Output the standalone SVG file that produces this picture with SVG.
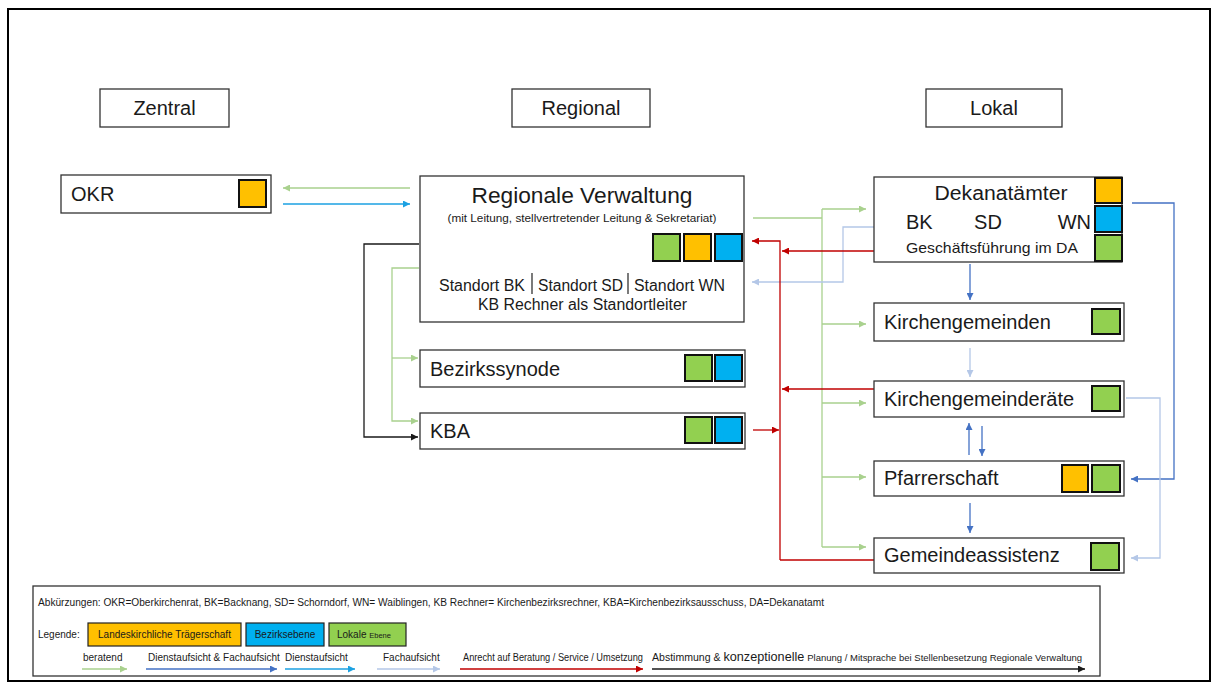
<svg xmlns="http://www.w3.org/2000/svg" width="1218" height="689" viewBox="0 0 1218 689">
  <style>
    .frame { fill: #fff; stroke: #000; stroke-width: 2; }
    .box { fill: #fff; stroke: #333; stroke-width: 1.3; }
    .sq { stroke: #111; stroke-width: 2; }
    .or { fill: #FFC000; }
    .bl { fill: #00B0F0; }
    .gr { fill: #92D050; }
    text { font-family: "Liberation Sans", Arial, sans-serif; fill: #1a1a1a; }
    .lbl { font-size: 20px; }
    .sm { font-size: 10px; }
    .c { fill: none; stroke-width: 1.3; }
    .green { stroke: #A9D18E; }
    .dblue { stroke: #4472C4; }
    .cyan { stroke: #1BA1E2; }
    .light { stroke: #B4C7E7; }
    .red { stroke: #C00000; }
    .black { stroke: #1a1a1a; }
    .dash { stroke-dasharray: 6 3; }
  </style>
  <defs>
    <marker id="mGreen" viewBox="0 0 10 10" refX="10" refY="5" markerWidth="8" markerHeight="7" markerUnits="userSpaceOnUse" orient="auto"><path d="M0,0 L10,5 L0,10 z" fill="#A9D18E"/></marker>
    <marker id="mDblue" viewBox="0 0 10 10" refX="10" refY="5" markerWidth="8" markerHeight="7" markerUnits="userSpaceOnUse" orient="auto"><path d="M0,0 L10,5 L0,10 z" fill="#4472C4"/></marker>
    <marker id="mCyan" viewBox="0 0 10 10" refX="10" refY="5" markerWidth="8" markerHeight="7" markerUnits="userSpaceOnUse" orient="auto"><path d="M0,0 L10,5 L0,10 z" fill="#1BA1E2"/></marker>
    <marker id="mLight" viewBox="0 0 10 10" refX="10" refY="5" markerWidth="8" markerHeight="7" markerUnits="userSpaceOnUse" orient="auto"><path d="M0,0 L10,5 L0,10 z" fill="#B4C7E7"/></marker>
    <marker id="mRed" viewBox="0 0 10 10" refX="10" refY="5" markerWidth="8" markerHeight="7" markerUnits="userSpaceOnUse" orient="auto"><path d="M0,0 L10,5 L0,10 z" fill="#C00000"/></marker>
    <marker id="mBlack" viewBox="0 0 10 10" refX="10" refY="5" markerWidth="8" markerHeight="7" markerUnits="userSpaceOnUse" orient="auto"><path d="M0,0 L10,5 L0,10 z" fill="#1a1a1a"/></marker>
  </defs>

  <rect class="frame" x="8" y="9" width="1202" height="672"/>

  <!-- column headers -->
  <g id="hdr-zentral">
    <rect class="box" x="100" y="89" width="129" height="38"/>
    <text class="lbl" x="164.5" y="115" text-anchor="middle">Zentral</text>
  </g>
  <g id="hdr-regional">
    <rect class="box" x="512" y="89" width="138" height="38"/>
    <text class="lbl" x="581" y="115" text-anchor="middle">Regional</text>
  </g>
  <g id="hdr-lokal">
    <rect class="box" x="926" y="89" width="136" height="38"/>
    <text class="lbl" x="994" y="115" text-anchor="middle">Lokal</text>
  </g>

  <!-- connectors -->
  <g id="connectors">
    <!-- OKR <-> Regionale Verwaltung -->
    <line class="c green" x1="410" y1="188" x2="283" y2="188" marker-end="url(#mGreen)"/>
    <line class="c cyan" x1="283" y1="204" x2="410" y2="204" marker-end="url(#mCyan)"/>

    <!-- inside Regionale Verwaltung: to the three sites -->
    <line class="c cyan" x1="545" y1="228" x2="500" y2="270" marker-end="url(#mCyan)"/>
    <line class="c light dash" x1="556" y1="230" x2="510" y2="272" marker-end="url(#mLight)"/>
    <line class="c cyan" x1="572" y1="227" x2="572" y2="271" marker-end="url(#mCyan)"/>
    <line class="c light dash" x1="579" y1="227" x2="579" y2="271" marker-end="url(#mLight)"/>
    <line class="c light dash" x1="592" y1="230" x2="653" y2="271" marker-end="url(#mLight)"/>
    <line class="c cyan" x1="600" y1="229" x2="660" y2="270" marker-end="url(#mCyan)"/>

    <!-- left side: black and green -->
    <polyline class="c black" points="419,244 364,244 364,437 418,437" marker-end="url(#mBlack)"/>
    <polyline class="c green" points="419,268 392,268 392,421 418,421" marker-end="url(#mGreen)"/>
    <line class="c green" x1="392" y1="358" x2="418" y2="358" marker-end="url(#mGreen)"/>

    <!-- green "beratend" bus to local level -->
    <line class="c green" x1="753" y1="218" x2="822" y2="218"/>
    <line class="c green" x1="822" y1="209" x2="822" y2="547"/>
    <line class="c green" x1="822" y1="209" x2="866" y2="209" marker-end="url(#mGreen)"/>
    <line class="c green" x1="822" y1="324" x2="866" y2="324" marker-end="url(#mGreen)"/>
    <line class="c green" x1="822" y1="403" x2="866" y2="403" marker-end="url(#mGreen)"/>
    <line class="c green" x1="822" y1="477" x2="866" y2="477" marker-end="url(#mGreen)"/>
    <line class="c green" x1="822" y1="547" x2="866" y2="547" marker-end="url(#mGreen)"/>

    <!-- Fachaufsicht from Dekanatämter back to Regionale Verwaltung -->
    <polyline class="c light" points="874,227 843,227 843,282 752,282" marker-end="url(#mLight)"/>

    <!-- red service bus -->
    <polyline class="c red" points="780,560 780,241 752,241" marker-end="url(#mRed)"/>
    <line class="c red" x1="874" y1="251" x2="782" y2="251" marker-end="url(#mRed)"/>
    <line class="c red" x1="874" y1="389" x2="782" y2="389" marker-end="url(#mRed)"/>
    <line class="c red" x1="753" y1="430" x2="779" y2="430" marker-end="url(#mRed)"/>
    <line class="c red" x1="780" y1="560" x2="874" y2="560"/>

    <!-- vertical chain on the local level -->
    <line class="c dblue" x1="970" y1="264" x2="970" y2="300" marker-end="url(#mDblue)"/>
    <line class="c light" x1="970" y1="348" x2="970" y2="377" marker-end="url(#mLight)"/>
    <line class="c dblue" x1="969" y1="455" x2="969" y2="423" marker-end="url(#mDblue)"/>
    <line class="c dblue" x1="982" y1="426" x2="982" y2="456" marker-end="url(#mDblue)"/>
    <line class="c dblue" x1="970" y1="503" x2="970" y2="533" marker-end="url(#mDblue)"/>

    <!-- right side loops -->
    <polyline class="c dblue" points="1132,203 1174,203 1174,479 1131,479" marker-end="url(#mDblue)"/>
    <polyline class="c light" points="1126,398 1160,398 1160,558 1131,558" marker-end="url(#mLight)"/>
  </g>

  <!-- central level -->
  <g id="okr">
    <rect class="box" x="61" y="175" width="210" height="38"/>
    <text class="lbl" x="71" y="201">OKR</text>
    <rect class="sq or" x="239" y="180" width="27" height="27"/>
  </g>

  <!-- regional level -->
  <g id="regionale-verwaltung">
    <rect class="box" x="420" y="176" width="324" height="146"/>
    <text x="582" y="203" text-anchor="middle" font-size="22.5" textLength="221" lengthAdjust="spacingAndGlyphs">Regionale Verwaltung</text>
    <text x="582" y="222" text-anchor="middle" font-size="10.5" textLength="269" lengthAdjust="spacingAndGlyphs">(mit Leitung, stellvertretender Leitung &amp; Sekretariat)</text>
    <rect class="sq gr" x="653" y="234" width="27" height="27"/>
    <rect class="sq or" x="684" y="234" width="27" height="27"/>
    <rect class="sq bl" x="715" y="234" width="27" height="27"/>
    <text x="439" y="291" font-size="16" textLength="86" lengthAdjust="spacingAndGlyphs">Standort BK</text>
    <line x1="532" y1="273" x2="532" y2="294" stroke="#222" stroke-width="1.2"/>
    <text x="538" y="291" font-size="16" textLength="85" lengthAdjust="spacingAndGlyphs">Standort SD</text>
    <line x1="628" y1="273" x2="628" y2="294" stroke="#222" stroke-width="1.2"/>
    <text x="634" y="291" font-size="16" textLength="91" lengthAdjust="spacingAndGlyphs">Standort WN</text>
    <text x="582.5" y="310" text-anchor="middle" font-size="16" textLength="209" lengthAdjust="spacingAndGlyphs">KB Rechner als Standortleiter</text>
  </g>

  <g id="bezirkssynode">
    <rect class="box" x="420" y="350" width="325" height="37"/>
    <text class="lbl" x="430" y="376">Bezirkssynode</text>
    <rect class="sq gr" x="685" y="355" width="27" height="26"/>
    <rect class="sq bl" x="715" y="355" width="27" height="26"/>
  </g>

  <g id="kba">
    <rect class="box" x="420" y="413" width="325" height="36"/>
    <text class="lbl" x="430" y="438">KBA</text>
    <rect class="sq gr" x="685" y="417" width="27" height="26"/>
    <rect class="sq bl" x="715" y="417" width="27" height="26"/>
  </g>

  <!-- local level -->
  <g id="dekanataemter">
    <rect class="box" x="874" y="177" width="248" height="85"/>
    <text x="1001" y="200" text-anchor="middle" font-size="20" textLength="133" lengthAdjust="spacingAndGlyphs">Dekanatämter</text>
    <text x="906" y="229" font-size="20">BK</text>
    <text x="988" y="229" font-size="20" text-anchor="middle">SD</text>
    <text x="1091" y="229" font-size="20" text-anchor="end">WN</text>
    <text x="906" y="253" font-size="15" textLength="172" lengthAdjust="spacingAndGlyphs">Geschäftsführung im DA</text>
    <rect class="sq or" x="1095" y="178" width="27" height="25"/>
    <rect class="sq bl" x="1095" y="206" width="27" height="26"/>
    <rect class="sq gr" x="1095" y="235" width="27" height="26"/>
  </g>

  <g id="kirchengemeinden">
    <rect class="box" x="874" y="303" width="250" height="38"/>
    <text class="lbl" x="884" y="329">Kirchengemeinden</text>
    <rect class="sq gr" x="1092" y="309" width="28" height="25"/>
  </g>

  <g id="kirchengemeinderaete">
    <rect class="box" x="874" y="381" width="250" height="36"/>
    <text class="lbl" x="884" y="406">Kirchengemeinderäte</text>
    <rect class="sq gr" x="1092" y="386" width="28" height="25"/>
  </g>

  <g id="pfarrerschaft">
    <rect class="box" x="874" y="461" width="250" height="35"/>
    <text class="lbl" x="884" y="485">Pfarrerschaft</text>
    <rect class="sq or" x="1062" y="465" width="26" height="27"/>
    <rect class="sq gr" x="1092" y="465" width="28" height="27"/>
  </g>

  <g id="gemeindeassistenz">
    <rect class="box" x="874" y="538" width="250" height="35"/>
    <text class="lbl" x="884" y="562">Gemeindeassistenz</text>
    <rect class="sq gr" x="1091" y="543" width="28" height="27"/>
  </g>

  <!-- legend -->
  <g id="legend">
    <rect class="box" x="33" y="586" width="1067" height="90"/>
    <text class="sm" x="38" y="606" textLength="786" lengthAdjust="spacingAndGlyphs">Abkürzungen: OKR=Oberkirchenrat, BK=Backnang, SD= Schorndorf, WN= Waiblingen, KB Rechner= Kirchenbezirksrechner, KBA=Kirchenbezirksausschuss, DA=Dekanatamt</text>
    <text class="sm" x="38" y="638">Legende:</text>
    <rect x="88" y="623" width="153" height="23" fill="#FFC000" stroke="#222" stroke-width="1.2"/>
    <text class="sm" x="164.5" y="638" text-anchor="middle" fill="#3b2a00">Landeskirchliche Trägerschaft</text>
    <rect x="246" y="623" width="78" height="23" fill="#00B0F0" stroke="#222" stroke-width="1.2"/>
    <text class="sm" x="285" y="638" text-anchor="middle">Bezirksebene</text>
    <rect x="329" y="623" width="77" height="23" fill="#92D050" stroke="#222" stroke-width="1.2"/>
    <text class="sm" x="337" y="638">Lokale <tspan font-size="7.5">Ebene</tspan></text>

    <text class="sm" x="83" y="661" fill="#8BBE6A">beratend</text>
    <line class="c green" x1="82" y1="669" x2="127" y2="669" marker-end="url(#mGreen)"/>
    <text class="sm" x="148" y="661" fill="#4472C4">Dienstaufsicht &amp; Fachaufsicht</text>
    <line class="c dblue" x1="146" y1="669" x2="277" y2="669" marker-end="url(#mDblue)"/>
    <text class="sm" x="285" y="661" fill="#1BA1E2">Dienstaufsicht</text>
    <line class="c cyan" x1="285" y1="669" x2="355" y2="669" marker-end="url(#mCyan)"/>
    <text class="sm" x="383" y="661" fill="#A9BCDC">Fachaufsicht</text>
    <line class="c light" x1="377" y1="669" x2="440" y2="669" marker-end="url(#mLight)"/>
    <text class="sm" x="463" y="661" fill="#C00000" textLength="180" lengthAdjust="spacingAndGlyphs">Anrecht auf Beratung / Service / Umsetzung</text>
    <line class="c red" x1="460" y1="669" x2="643" y2="669" marker-end="url(#mRed)"/>
    <text class="sm" x="652" y="661" textLength="430" lengthAdjust="spacingAndGlyphs">Abstimmung &amp; <tspan font-size="12">konzeptionelle</tspan> <tspan font-size="9">Planung / Mitsprache bei Stellenbesetzung Regionale Verwaltung</tspan></text>
    <line class="c black" x1="652" y1="669" x2="1085" y2="669" marker-end="url(#mBlack)"/>
  </g>
</svg>
